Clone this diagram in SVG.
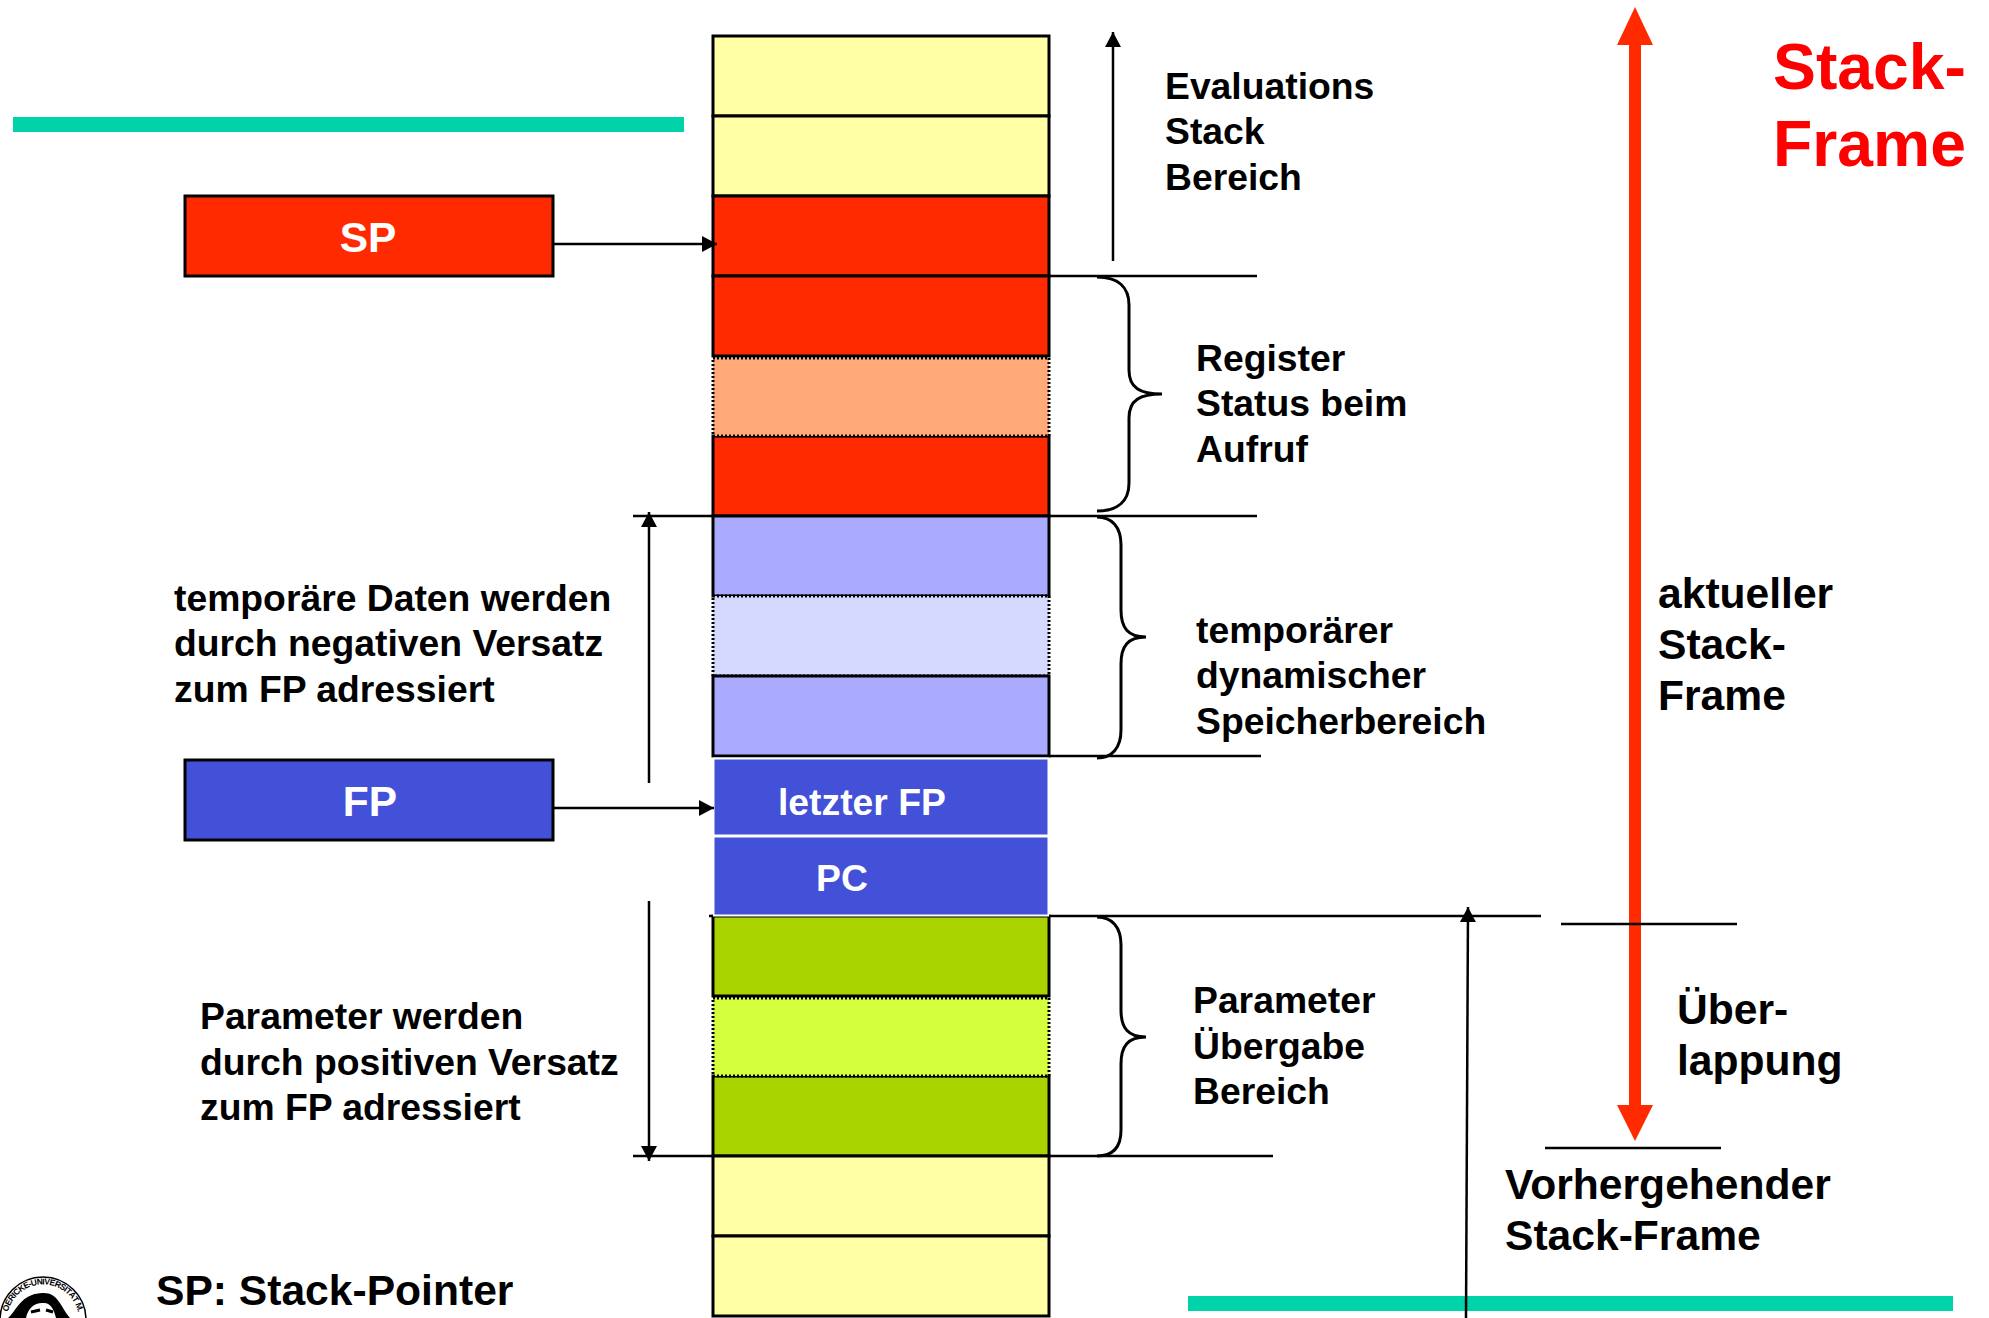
<svg xmlns="http://www.w3.org/2000/svg" width="1989" height="1318" viewBox="0 0 1989 1318">
<defs>
<marker id="ah" markerUnits="userSpaceOnUse" markerWidth="16" markerHeight="16" refX="15" refY="8" orient="auto-start-reverse" overflow="visible"><path d="M0 0L15 8L0 16Z" fill="#000"/></marker>
<path id="sealarc" d="M8 1312A36 36 0 0 1 78 1312"/>
</defs>
<style>
text{font-family:"Liberation Sans",Arial,sans-serif;font-weight:700;fill:#000}
.l{font-size:37.300px}
.b{font-size:42.600px}
.w{fill:#fff;font-size:42.500px}
.r{fill:#ff0000;font-size:64.300px}
.c{stroke:#000;stroke-width:3}
.d{stroke:#000;stroke-width:3;stroke-dasharray:2 2}
.y{fill:#ffffa6}.e{fill:#ff2a00}.o{fill:#ffaa78}.p{fill:#aaaaff}.q{fill:#d5d8ff}.g{fill:#aad400}.h{fill:#d4ff3c}
.line{stroke:#000;stroke-width:2.500;fill:none}
.brace{stroke:#000;stroke-width:3;fill:none}
</style>
<rect width="1989" height="1318" fill="#fff"/>
<g id="stack">
<g id="cell-y1"><rect class="y c" x="713" y="36" width="336" height="80"/></g>
<g id="cell-y2"><rect class="y c" x="713" y="116" width="336" height="80"/></g>
<g id="cell-r1"><rect class="e c" x="713" y="196" width="336" height="80"/></g>
<g id="cell-r3"><rect class="e c" x="713" y="436" width="336" height="80"/></g>
<g id="cell-r2"><rect class="e c" x="713" y="276" width="336" height="80"/></g>
<g id="cell-o"><rect class="o d" x="713" y="358" width="336" height="78"/></g>
<g id="cell-p1"><rect class="p c" x="713" y="516" width="336" height="80"/></g>
<g id="cell-q"><rect class="q d" x="713" y="596" width="336" height="80"/></g>
<g id="cell-p2"><rect class="p c" x="713" y="676" width="336" height="80"/></g>
<g id="cell-g2"><rect class="g c" x="713" y="1076" width="336" height="80"/></g>
<g id="cell-g1"><rect class="g c" x="713" y="916" width="336" height="80"/></g>
<g id="cell-h"><rect class="h d" x="713" y="998" width="336" height="78"/></g>
<g id="cell-y3"><rect class="y c" x="713" y="1156" width="336" height="80"/></g>
<g id="cell-y4"><rect class="y c" x="713" y="1236" width="336" height="80"/></g>
<g id="cell-fp"><rect x="713.500" y="758.500" width="335" height="77" fill="#4350d8" stroke="#fff" stroke-width="2"/><text class="w" x="778" y="815" style="font-size:37.300px">letzter FP</text></g>
<g id="cell-pc"><rect x="713.500" y="836.500" width="335" height="79" fill="#4350d8" stroke="#fff" stroke-width="2"/><text class="w" x="816" y="891" style="font-size:37.300px">PC</text></g>
</g>
<g id="bars">
<rect x="13" y="117" width="671" height="15" fill="#00d2a9"/>
<rect x="1188" y="1296" width="765" height="15" fill="#00d2a9"/>
</g>
<g id="node-sp"><rect class="e c" x="185" y="196" width="368" height="80"/><text class="w" x="368" y="252" text-anchor="middle">SP</text></g>
<g id="node-fp"><rect x="185" y="760" width="368" height="80" fill="#4350d8" stroke="#000" stroke-width="3"/><text class="w" x="370" y="816" text-anchor="middle">FP</text></g>
<g id="connectors">
<path class="line" d="M553 244H717" marker-end="url(#ah)"/>
<path class="line" d="M553 808H714" marker-end="url(#ah)"/>
<path class="line" d="M1113 261V32" marker-end="url(#ah)"/>
<path class="line" d="M649 783V512" marker-end="url(#ah)"/>
<path class="line" d="M649 901V1161" marker-end="url(#ah)"/>
<path class="line" d="M1466 1318L1468 907" marker-end="url(#ah)"/>
<path class="line" d="M1049 276H1257M1049 516H1257M1049 756H1261M1049 916H1541M1545 1148H1721M633 516H713M633 1156H713M1049 1156H1273M709 916H713"/>
<path d="M1635 45V1105" stroke="#ff2a00" stroke-width="12" fill="none"/>
<path d="M1635 7L1653 45H1617Z M1635 1141L1653 1105H1617Z" fill="#ff2a00"/>
<path class="line" d="M1561 924H1737"/>
</g>
<g id="braces">
<path class="brace" d="M1097 277C1118 277 1129 287 1129 305V370C1129 388 1140 394 1162 394C1140 394 1129 400 1129 418V483C1129 501 1118 511 1097 511"/>
<path class="brace" d="M1097 517C1112 517 1121 527 1121 545V610C1121 628 1128 637 1146 637C1128 637 1121 646 1121 664V730C1121 748 1112 758 1097 758"/>
<path class="brace" d="M1097 917C1112 917 1121 927 1121 945V1010C1121 1028 1128 1037 1146 1037C1128 1037 1121 1046 1121 1064V1130C1121 1148 1112 1156 1097 1156"/>
</g>
<g id="labels">
<text class="l"><tspan x="1165" y="99">Evaluations</tspan><tspan x="1165" y="144">Stack</tspan><tspan x="1165" y="190">Bereich</tspan></text>
<text class="l"><tspan x="1196" y="371">Register</tspan><tspan x="1196" y="416">Status beim</tspan><tspan x="1196" y="462">Aufruf</tspan></text>
<text class="l"><tspan x="1196" y="643">temporärer</tspan><tspan x="1196" y="688">dynamischer</tspan><tspan x="1196" y="734">Speicherbereich</tspan></text>
<text class="l"><tspan x="1193" y="1013">Parameter</tspan><tspan x="1193" y="1059">Übergabe</tspan><tspan x="1193" y="1104">Bereich</tspan></text>
<text class="l"><tspan x="174" y="611">temporäre Daten werden</tspan><tspan x="174" y="656">durch negativen Versatz</tspan><tspan x="174" y="702">zum FP adressiert</tspan></text>
<text class="l"><tspan x="200" y="1029">Parameter werden</tspan><tspan x="200" y="1075">durch positiven Versatz</tspan><tspan x="200" y="1120">zum FP adressiert</tspan></text>
<text class="b"><tspan x="1658" y="608">aktueller</tspan><tspan x="1658" y="659">Stack-</tspan><tspan x="1658" y="710">Frame</tspan></text>
<text class="b"><tspan x="1677" y="1024">Über-</tspan><tspan x="1677" y="1075">lappung</tspan></text>
<text class="b"><tspan x="1505" y="1199">Vorhergehender</tspan><tspan x="1505" y="1250">Stack-Frame</tspan></text>
<text class="b" x="156" y="1305">SP: Stack-Pointer</text>
<text class="r"><tspan x="1773" y="89">Stack-</tspan><tspan x="1773" y="166">Frame</tspan></text>
</g>
<g id="seal">
<circle cx="43" cy="1320" r="43" fill="#fff" stroke="#000" stroke-width="1.500"/>
<text style="font-size:8.500px"><textPath href="#sealarc" textLength="96" lengthAdjust="spacing">OERICKE-UNIVERSITÄT M.</textPath></text>
<path d="M8 1318C16 1312 20 1294 42 1293C58 1292 60 1306 70 1318Z" fill="#000"/>
<path d="M26 1318C28 1308 35 1302 44 1303C51 1303 54 1310 56 1318Z" fill="#fff"/>
<path d="M31 1312L40 1310M46 1310L53 1312" stroke="#000" stroke-width="3"/>
</g>
</svg>
